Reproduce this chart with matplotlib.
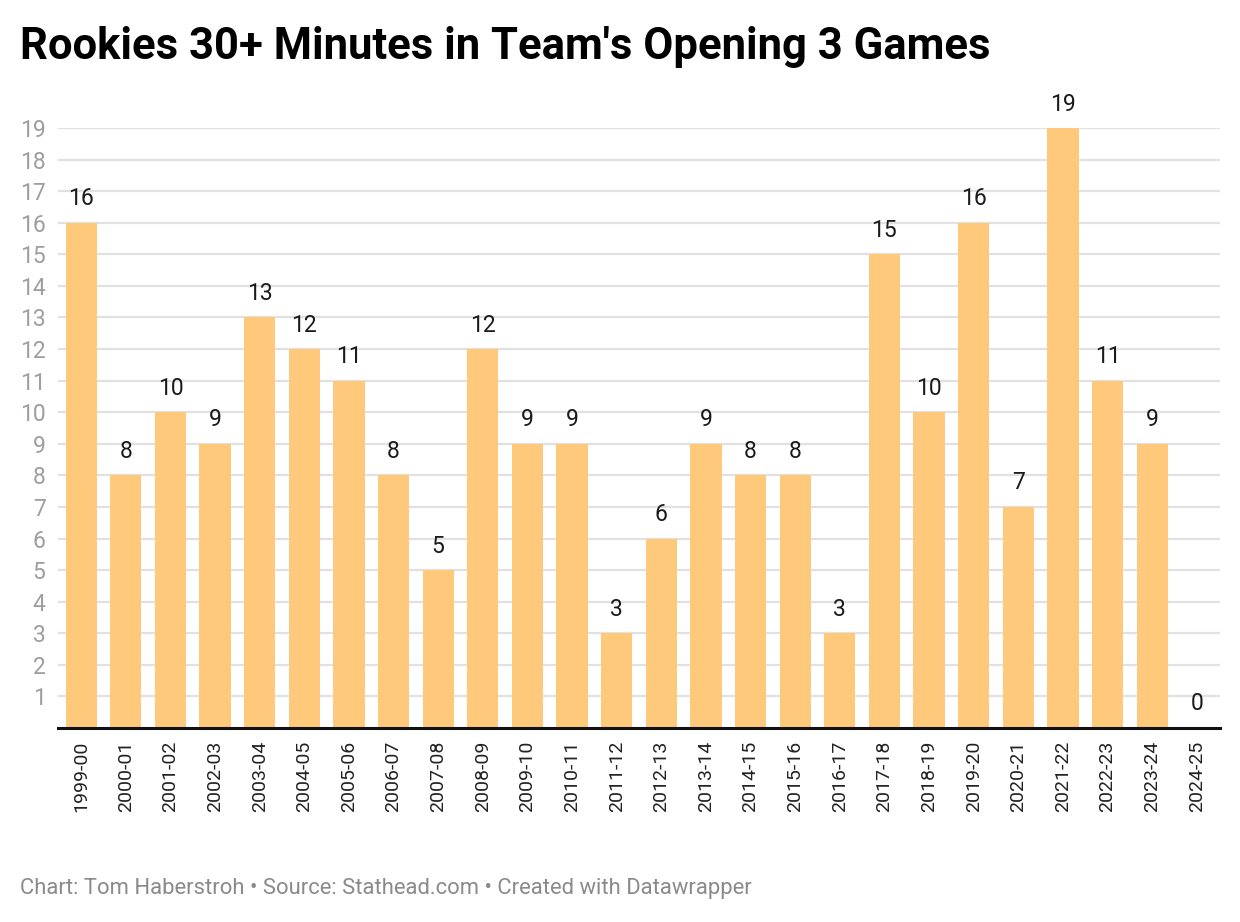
import matplotlib.pyplot as plt
import numpy as np

seasons = ['1999-00', '2000-01', '2001-02', '2002-03', '2003-04', '2004-05', '2005-06',
           '2006-07', '2007-08', '2008-09', '2009-10', '2010-11', '2011-12', '2012-13',
           '2013-14', '2014-15', '2015-16', '2016-17', '2017-18', '2018-19', '2019-20',
           '2020-21', '2021-22', '2022-23', '2023-24', '2024-25']
rookies = [16, 8, 10, 9, 13, 12, 11, 8, 5, 12, 9, 9, 3, 6, 9, 8, 8, 3, 15, 10, 16, 7, 19, 11, 9, 0]

plt.rcParams['font.family'] = ['Roboto', 'DejaVu Sans']

fig = plt.figure(figsize=(12.4, 9.22), dpi=100)
ax = fig.add_axes([58 / 1240, 1 - 728 / 922, (1220 - 58) / 1240, 600 / 922])

x = np.arange(len(seasons))
bars = ax.bar(x, rookies, width=0.70, color='#fec97a', zorder=2)

for xi, v in zip(x, rookies):
    ax.annotate(str(v), (xi, v), xytext=(0, 9), textcoords='offset points',
                ha='center', va='bottom', fontsize=16.5, color='#1a1a1a', clip_on=False)

ax.set_xlim(-0.52, len(seasons) - 0.48)
ax.set_ylim(0, 19)
ax.set_yticks(range(1, 20))
ax.yaxis.grid(True, color='#e1e1e1', linewidth=1.6, zorder=0)
ax.set_axisbelow(True)
ax.tick_params(axis='y', length=0, pad=9, labelsize=16.5, labelcolor='#9e9e9e')
ax.set_xticks(x)
ax.set_xticklabels(seasons, rotation=90, fontsize=14, color='#222222')
ax.tick_params(axis='x', length=0, pad=9)

for side in ['top', 'right', 'left']:
    ax.spines[side].set_visible(False)
ax.spines['bottom'].set_color('#111111')
ax.spines['bottom'].set_linewidth(2.2)
ax.spines['bottom'].set_zorder(3)

fig.text(20 / 1240, 1 - 47 / 922, "Rookies 30+ Minutes in Team's Opening 3 Games",
         fontsize=31.4, fontweight='bold', color='#000000', va='center', ha='left')
fig.text(20 / 1240, 1 - 888 / 922,
         "Chart: Tom Haberstroh \u2022 Source: Stathead.com \u2022 Created with Datawrapper",
         fontsize=15.85, color='#8a8a8a', va='center', ha='left')

fig.savefig('out.png', dpi=100, facecolor='white')
